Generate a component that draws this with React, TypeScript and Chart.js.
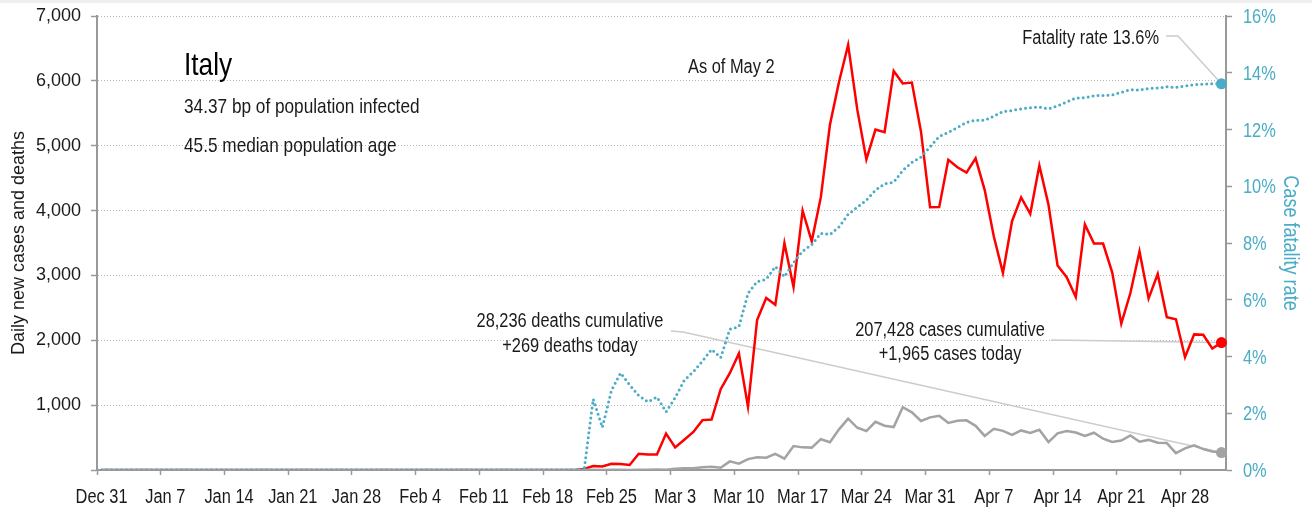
import { useEffect, useRef } from "react";
import { Chart, registerables } from "chart.js";

Chart.register(...registerables);

const DATES = [
  "Dec 31",
  "Jan 1", "Jan 2", "Jan 3", "Jan 4", "Jan 5", "Jan 6", "Jan 7", "Jan 8", "Jan 9", "Jan 10",
  "Jan 11", "Jan 12", "Jan 13", "Jan 14", "Jan 15", "Jan 16", "Jan 17", "Jan 18", "Jan 19", "Jan 20",
  "Jan 21", "Jan 22", "Jan 23", "Jan 24", "Jan 25", "Jan 26", "Jan 27", "Jan 28", "Jan 29", "Jan 30", "Jan 31",
  "Feb 1", "Feb 2", "Feb 3", "Feb 4", "Feb 5", "Feb 6", "Feb 7", "Feb 8", "Feb 9", "Feb 10",
  "Feb 11", "Feb 12", "Feb 13", "Feb 14", "Feb 15", "Feb 16", "Feb 17", "Feb 18", "Feb 19", "Feb 20",
  "Feb 21", "Feb 22", "Feb 23", "Feb 24", "Feb 25", "Feb 26", "Feb 27", "Feb 28", "Feb 29",
  "Mar 1", "Mar 2", "Mar 3", "Mar 4", "Mar 5", "Mar 6", "Mar 7", "Mar 8", "Mar 9", "Mar 10",
  "Mar 11", "Mar 12", "Mar 13", "Mar 14", "Mar 15", "Mar 16", "Mar 17", "Mar 18", "Mar 19", "Mar 20",
  "Mar 21", "Mar 22", "Mar 23", "Mar 24", "Mar 25", "Mar 26", "Mar 27", "Mar 28", "Mar 29", "Mar 30", "Mar 31",
  "Apr 1", "Apr 2", "Apr 3", "Apr 4", "Apr 5", "Apr 6", "Apr 7", "Apr 8", "Apr 9", "Apr 10",
  "Apr 11", "Apr 12", "Apr 13", "Apr 14", "Apr 15", "Apr 16", "Apr 17", "Apr 18", "Apr 19", "Apr 20",
  "Apr 21", "Apr 22", "Apr 23", "Apr 24", "Apr 25", "Apr 26", "Apr 27", "Apr 28", "Apr 29", "Apr 30",
  "May 1", "May 2",
];

const TICK_LABELS = [
  "Dec 31", "Jan 7", "Jan 14", "Jan 21", "Jan 28", "Feb 4", "Feb 11", "Feb 18", "Feb 25",
  "Mar 3", "Mar 10", "Mar 17", "Mar 24", "Mar 31", "Apr 7", "Apr 14", "Apr 21", "Apr 28",
];

// Daily new cases (Dec 31 .. May 2)
const NEW_CASES = [
  0,
  0, 0, 0, 0, 0, 0, 0, 0, 0, 0,
  0, 0, 0, 0, 0, 0, 0, 0, 0, 0,
  0, 0, 0, 0, 0, 0, 0, 0, 0, 0, 0,
  0, 0, 0, 0, 0, 0, 0, 0, 0, 0,
  0, 0, 0, 0, 0, 0, 0, 0, 0, 0,
  0, 17, 62, 53, 97, 93, 78, 250, 238,
  240, 561, 347, 466, 587, 769, 778, 1247, 1492, 1797,
  977, 2313, 2651, 2547, 3497, 2823, 4000, 3526, 4207, 5322,
  5986, 6557, 5560, 4789, 5249, 5210, 6153, 5959, 5974, 5217, 4050,
  4053, 4782, 4668, 4585, 4805, 4316, 3599, 3039, 3836, 4204,
  3951, 4694, 4092, 3153, 2972, 2667, 3786, 3493, 3491, 3047,
  2256, 2729, 3370, 2646, 3021, 2357, 2324, 1739, 2091, 2086,
  1872, 1965,
];

// Daily new deaths
const NEW_DEATHS = [
  0,
  0, 0, 0, 0, 0, 0, 0, 0, 0, 0,
  0, 0, 0, 0, 0, 0, 0, 0, 0, 0,
  0, 0, 0, 0, 0, 0, 0, 0, 0, 0, 0,
  0, 0, 0, 0, 0, 0, 0, 0, 0, 0,
  0, 0, 0, 0, 0, 0, 0, 0, 0, 0,
  0, 0, 2, 0, 5, 4, 1, 5, 4,
  8, 5, 18, 27, 28, 41, 49, 36, 133, 97,
  168, 196, 189, 250, 175, 368, 349, 345, 475, 427,
  627, 793, 651, 601, 743, 683, 662, 969, 889, 756, 812,
  837, 727, 760, 766, 681, 525, 636, 604, 542, 610,
  570, 619, 431, 566, 602, 578, 525, 575, 482, 433,
  454, 534, 437, 464, 420, 415, 260, 333, 382, 323,
  285, 269,
];

// Case fatality rate, % (right axis)
const FATALITY_RATE = [
  0,
  0, 0, 0, 0, 0, 0, 0, 0, 0, 0,
  0, 0, 0, 0, 0, 0, 0, 0, 0, 0,
  0, 0, 0, 0, 0, 0, 0, 0, 0, 0, 0,
  0, 0, 0, 0, 0, 0, 0, 0, 0, 0,
  0, 0, 0, 0, 0, 0, 0, 0, 0, 0,
  0, 0, 2.5, 1.5, 2.8, 3.42, 3.0, 2.62, 2.4,
  2.57, 2.05, 2.55, 3.16, 3.46, 3.84, 4.25, 3.96, 4.96, 5.05,
  6.22, 6.64, 6.72, 7.17, 6.81, 7.31, 7.71, 7.94, 8.34, 8.3,
  8.57, 9.01, 9.26, 9.51, 9.86, 10.09, 10.14, 10.56, 10.84, 11.03, 11.39,
  11.75, 11.9, 12.07, 12.25, 12.33, 12.32, 12.47, 12.63, 12.67, 12.73,
  12.77, 12.79, 12.73, 12.83, 12.97, 13.11, 13.12, 13.19, 13.2, 13.22,
  13.31, 13.4, 13.39, 13.45, 13.46, 13.51, 13.48, 13.53, 13.58, 13.6,
  13.61, 13.61,
];

const TITLE = "Italy";
const SUBTITLE_LINES = ["34.37 bp of population infected", "45.5 median population age"];
const AS_OF = "As of May 2";
const FATALITY_NOTE = "Fatality rate 13.6%";
const DEATHS_NOTE = ["28,236 deaths cumulative", "+269 deaths today"];
const CASES_NOTE = ["207,428 cases cumulative", "+1,965 cases today"];
const LEFT_TITLE = "Daily new cases and deaths";
const RIGHT_TITLE = "Case fatality rate";

const REGULAR = "'Liberation Sans', Arial, sans-serif";
const NARROW_SCALE = 0.82;
const BLUE = "#4bacc6";
const RED = "#ff0000";
const GRAY = "#a3a3a3";
const AXIS = "#999999";
const TEXT = "#1a1a1a";

// condensed text: Liberation Sans squeezed horizontally (Arial Narrow proportions)
function narrowText(
  ctx: CanvasRenderingContext2D,
  text: string,
  x: number,
  y: number,
  size: number,
  color: string,
  align: CanvasTextAlign = "left",
  baseline: CanvasTextBaseline = "alphabetic",
  rotation = 0
) {
  ctx.save();
  ctx.translate(x, y);
  if (rotation) ctx.rotate(rotation);
  ctx.scale(NARROW_SCALE, 1);
  ctx.font = `${size}px ${REGULAR}`;
  ctx.fillStyle = color;
  ctx.textAlign = align;
  ctx.textBaseline = baseline;
  ctx.fillText(text, 0, 0);
  ctx.restore();
}

const annotationPlugin = {
  id: "annotations",
  beforeDraw(chart: any) {
    const ctx = chart.ctx;
    ctx.save();
    ctx.fillStyle = "#ffffff";
    ctx.fillRect(0, 0, chart.width, chart.height);
    ctx.fillStyle = "#efefef";
    ctx.fillRect(0, 0, chart.width, 3);
    ctx.restore();
  },
  beforeDatasetsDraw(chart: any) {
    const ctx = chart.ctx;
    const xs = chart.scales.x;
    const yl = chart.scales.y;
    const yr = chart.scales.y1;
    const last = DATES.length - 1;
    const px = xs.getPixelForValue(last);
    const pBlue = yr.getPixelForValue(FATALITY_RATE[last]);
    const pRed = yl.getPixelForValue(NEW_CASES[last]);
    const pGray = yl.getPixelForValue(NEW_DEATHS[last]);
    ctx.save();
    ctx.strokeStyle = "#cccccc";
    ctx.lineWidth = 1.5;
    ctx.beginPath();
    ctx.moveTo(1166, 36);
    ctx.lineTo(1178, 36);
    ctx.lineTo(px, pBlue);
    ctx.moveTo(671, 331);
    ctx.lineTo(683, 332);
    ctx.lineTo(px, pGray);
    ctx.moveTo(1051, 340);
    ctx.lineTo(px, pRed);
    ctx.stroke();
    ctx.restore();
  },
  afterDraw(chart: any) {
    const ctx = chart.ctx;
    const xs = chart.scales.x;
    const yr = chart.scales.y1;
    const ca = chart.chartArea;

    // x tick labels
    xs.ticks.forEach((_t: any, i: number) => {
      const lab = DATES[i];
      if (TICK_LABELS.includes(lab)) {
        narrowText(ctx, lab, xs.getPixelForTick(i), ca.bottom + 33, 20, TEXT, "center");
      }
    });
    // right tick labels
    yr.ticks.forEach((t: any) => {
      narrowText(ctx, `${t.value}%`, yr.left + 17, yr.getPixelForValue(t.value) + 7, 20, BLUE, "left");
    });
    // right axis title
    narrowText(ctx, RIGHT_TITLE, 1290, (ca.top + ca.bottom) / 2, 22, BLUE, "center", "middle", Math.PI / 2);

    narrowText(ctx, TITLE, 184, 75, 32, "#000000");
    narrowText(ctx, SUBTITLE_LINES[0], 184, 113, 21, TEXT);
    narrowText(ctx, SUBTITLE_LINES[1], 184, 151.5, 21, TEXT);
    narrowText(ctx, AS_OF, 688, 73, 20, TEXT);
    narrowText(ctx, FATALITY_NOTE, 1159, 44, 20, TEXT, "right");
    narrowText(ctx, DEATHS_NOTE[0], 570, 327, 20, TEXT, "center");
    narrowText(ctx, DEATHS_NOTE[1], 570, 352, 20, TEXT, "center");
    narrowText(ctx, CASES_NOTE[0], 950, 336, 20, TEXT, "center");
    narrowText(ctx, CASES_NOTE[1], 950, 360, 20, TEXT, "center");
  },
};

const lastOnly = (r: number) => (c: any) => (c.dataIndex === DATES.length - 1 ? r : 0);

const noVPad = (w: number) => (s: any) => {
  s.width = w;
  s.paddingTop = 0;
  s.paddingBottom = 0;
};

export default function App() {
  const ref = useRef<HTMLCanvasElement | null>(null);

  useEffect(() => {
    if (!ref.current) return;
    const chart = new Chart(ref.current, {
      type: "line",
      data: {
        labels: DATES,
        datasets: [
          {
            label: "Case fatality rate",
            data: FATALITY_RATE,
            yAxisID: "y1",
            borderColor: BLUE,
            backgroundColor: BLUE,
            borderWidth: 3,
            borderDash: [0, 5],
            borderCapStyle: "round",
            pointRadius: lastOnly(5.5),
            pointHoverRadius: 0,
            pointBorderWidth: 0,
            pointBackgroundColor: BLUE,
            tension: 0,
            order: 0,
          },
          {
            label: "Daily new deaths",
            data: NEW_DEATHS,
            yAxisID: "y",
            borderColor: GRAY,
            backgroundColor: GRAY,
            borderWidth: 2.5,
            pointRadius: lastOnly(5.5),
            pointBorderWidth: 0,
            pointBackgroundColor: GRAY,
            tension: 0,
            order: 1,
          },
          {
            label: "Daily new cases",
            data: NEW_CASES,
            yAxisID: "y",
            borderColor: RED,
            backgroundColor: RED,
            borderWidth: 2.5,
            pointRadius: lastOnly(5.5),
            pointBorderWidth: 0,
            pointBackgroundColor: RED,
            tension: 0,
            order: 2,
          },
        ],
      },
      options: {
        animation: false,
        responsive: true,
        maintainAspectRatio: false,
        events: [],
        layout: { padding: { top: 16, left: 0, right: 0, bottom: 0 } },
        plugins: {
          legend: { display: false },
          tooltip: { enabled: false },
        },
        scales: {
          x: {
            type: "category",
            offset: true,
            afterFit: (s: any) => {
              s.height = 40;
              s.paddingLeft = 0;
              s.paddingRight = 0;
            },
            grid: {
              offset: true,
              drawOnChartArea: false,
              drawTicks: true,
              tickLength: 5,
              tickWidth: 1.5,
              tickColor: (c: any) => (c.index % 7 === 0 ? AXIS : "rgba(0,0,0,0)"),
            },
            border: { display: true, color: AXIS, width: 2 },
            ticks: {
              autoSkip: false,
              maxRotation: 0,
              minRotation: 0,
              padding: 9,
              color: "rgba(0,0,0,0)",
              font: { family: REGULAR, size: 16 },
              callback: (_v: any, i: number) => (TICK_LABELS.includes(DATES[i]) ? DATES[i] : ""),
            },
          },
          y: {
            type: "linear",
            position: "left",
            min: 0,
            max: 7000,
            afterFit: noVPad(97),
            grid: {
              color: "#b8b8b8",
              lineWidth: 1,
              drawTicks: true,
              tickLength: 6,
              tickWidth: 1.5,
              tickColor: AXIS,
            },
            border: { display: true, color: AXIS, width: 2, dash: [1, 2] },
            ticks: {
              stepSize: 1000,
              padding: 10,
              color: TEXT,
              font: { family: REGULAR, size: 18 },
              callback: (v: any) => (Number(v) === 0 ? "" : Number(v).toLocaleString("en-US")),
            },
            title: {
              display: true,
              text: LEFT_TITLE,
              color: TEXT,
              font: { family: REGULAR, size: 18 },
              padding: { top: 8, bottom: 0 },
            },
          },
          y1: {
            type: "linear",
            position: "right",
            min: 0,
            max: 16,
            afterFit: noVPad(86),
            grid: {
              drawOnChartArea: false,
              drawTicks: true,
              tickLength: 6,
              tickWidth: 1.5,
              color: AXIS,
              tickColor: AXIS,
            },
            border: { display: true, color: AXIS, width: 2 },
            ticks: {
              stepSize: 2,
              padding: 10,
              color: "rgba(0,0,0,0)",
              font: { family: REGULAR, size: 16 },
              callback: (v: any) => `${v}%`,
            },
          },
        },
      },
      plugins: [annotationPlugin],
    } as any);
    return () => chart.destroy();
  }, []);

  return (
    <div style={{ position: "absolute", left: 0, top: 0, width: 1312, height: 510, background: "#fff" }}>
      <canvas ref={ref} />
    </div>
  );
}
